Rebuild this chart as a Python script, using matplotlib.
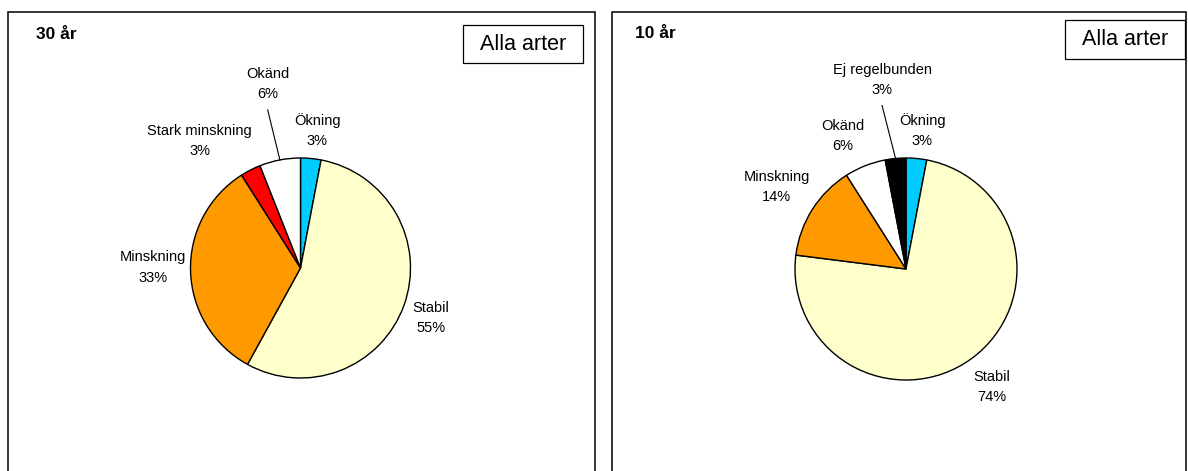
import numpy as np
import matplotlib
matplotlib.use("Agg")
import matplotlib.pyplot as plt
from matplotlib.patches import Rectangle

# Data: share of species per trend class (%)
cats_30 = ["Ökning", "Stabil", "Minskning", "Stark minskning", "Okänd"]
vals_30 = [3, 55, 33, 3, 6]
cols_30 = ["#00CCFF", "#FFFFCC", "#FF9900", "#FF0000", "#FFFFFF"]

cats_10 = ["Ökning", "Stabil", "Minskning", "Okänd", "Ej regelbunden"]
vals_10 = [3, 74, 14, 6, 3]
cols_10 = ["#00CCFF", "#FFFFCC", "#FF9900", "#FFFFFF", "#000000"]

titles = ["30 år", "10 år"]
box_text = "Alla arter"

W, H = 1188, 471
plt.rcParams["font.family"] = ["Liberation Sans", "DejaVu Sans"]
fig = plt.figure(figsize=(W / 100, H / 100), dpi=100)
ax = fig.add_axes([0, 0, 1, 1])


def py(y):
    # pixel rows counted from the top -> data y
    return H - y


panels = [
    dict(cats=cats_30, vals=vals_30, cols=cols_30, title=titles[0],
         frame=(8, 595), center=(300.5, 268), r=110,
         title_xy=(36, 34.5), box=(463, 25, 583, 63),
         dist=[1.26, 1.27, 1.34, 1.47, 1.70],
         shift=[-1.5, -1.0, -2.0, 11.5, -0.7],
         leader=[False, False, False, False, True]),
    dict(cats=cats_10, vals=vals_10, cols=cols_10, title=titles[1],
         frame=(612, 1186), center=(906, 269), r=111,
         title_xy=(635, 33), box=(1065, 20, 1185, 59),
         dist=[1.26, 1.31, 1.38, 1.33, 1.72],
         shift=[-1.2, 0.0, 0.0, 3.7, 1.8],
         leader=[False, False, False, False, True]),
]

for p in panels:
    x0, x1 = p["frame"]
    ax.add_patch(Rectangle((x0, -10), x1 - x0, py(12) + 10, fill=False,
                           edgecolor="black", linewidth=1.1, zorder=1))
    ax.text(p["title_xy"][0], py(p["title_xy"][1]), p["title"],
            fontsize=12.5, fontweight="bold", ha="left", va="center")
    bx0, by0, bx1, by1 = p["box"]
    ax.add_patch(Rectangle((bx0, py(by1)), bx1 - bx0, by1 - by0, fill=False,
                           edgecolor="black", linewidth=0.9, zorder=3))
    ax.text((bx0 + bx1) / 2, py((by0 + by1) / 2), box_text, fontsize=15.5,
            ha="center", va="center", zorder=4)

    cx, cy = p["center"][0], py(p["center"][1])
    r = p["r"]
    wedges, _ = ax.pie(p["vals"], colors=p["cols"], startangle=90,
                       counterclock=False, center=(cx, cy), radius=r,
                       wedgeprops=dict(edgecolor="black", linewidth=1.0))
    for w, name, v, d, s, lead in zip(wedges, p["cats"], p["vals"],
                                      p["dist"], p["shift"], p["leader"]):
        mid = np.deg2rad((w.theta1 + w.theta2) / 2)
        ang = mid + np.deg2rad(s)
        tx, ty = cx + r * d * np.cos(ang), cy + r * d * np.sin(ang)
        ax.text(tx, ty, f"{name}\n{v}%", fontsize=10.5, ha="center",
                va="center", linespacing=1.55)
        if lead:
            ex, ey = cx + r * np.cos(mid), cy + r * np.sin(mid)
            ax.plot([tx, ex], [ty - 26, ey], color="black", linewidth=0.8)

ax.set_xlim(0, W)
ax.set_ylim(0, H)
ax.set_aspect("equal")
ax.axis("off")

fig.savefig("out.png", dpi=100)
